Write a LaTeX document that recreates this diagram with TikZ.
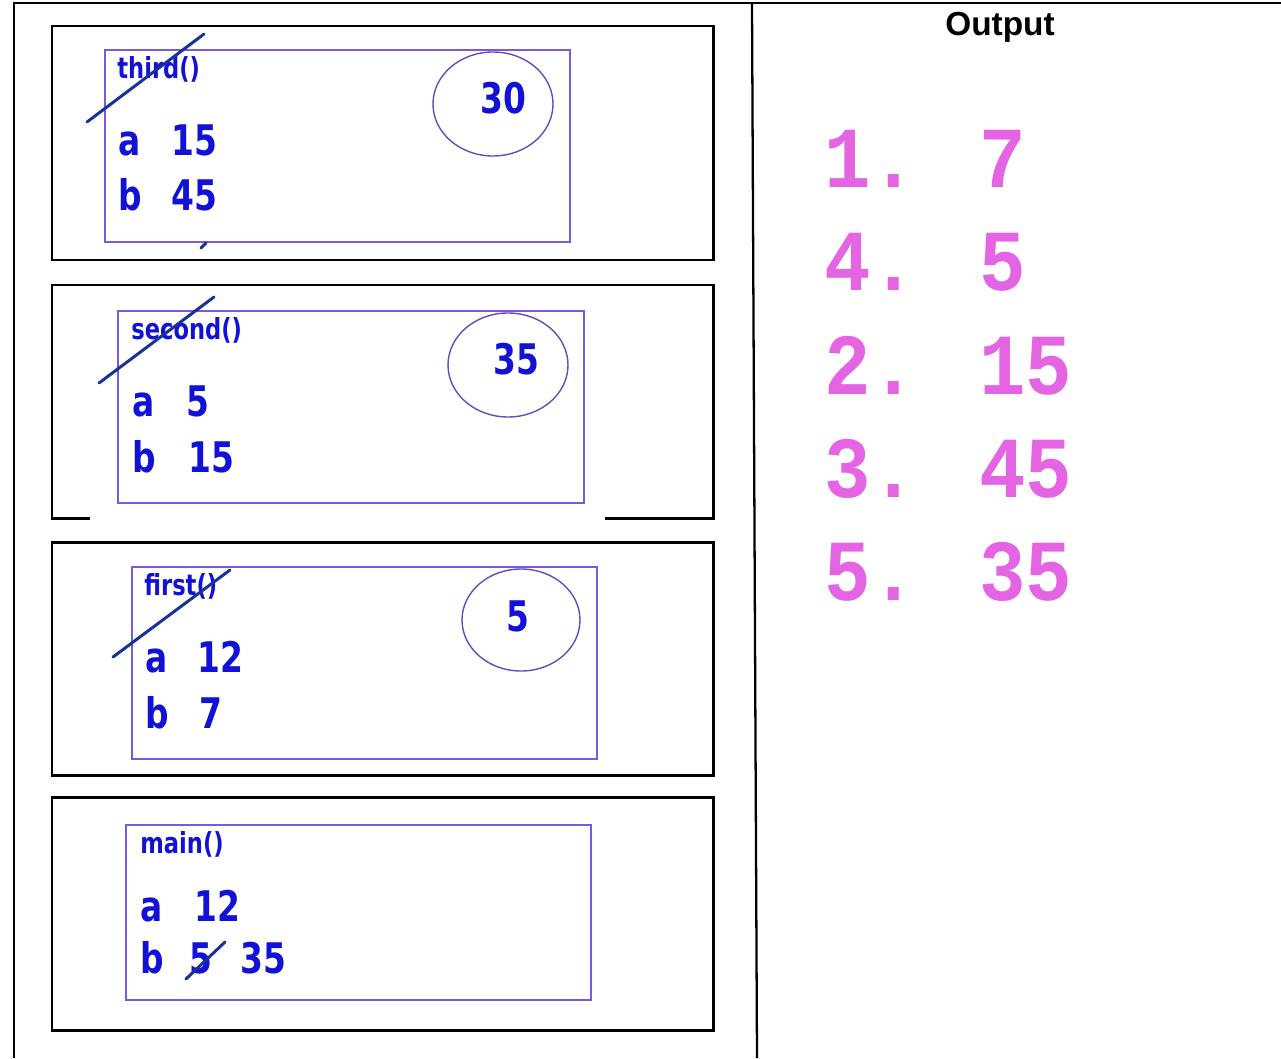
\documentclass[tikz,border=0pt]{standalone}
\usepackage{fontspec}
\usepackage{xcolor}
\setmainfont{DejaVu Sans}
\newfontfamily\stackfont[FakeStretch=0.78]{DejaVu Sans}
\newfontfamily\headfont{Liberation Sans}
\newfontfamily\printfont[FakeStretch=0.89]{Liberation Mono}
\definecolor{varblue}{RGB}{18,18,215}
\definecolor{scopepurple}{RGB}{120,90,225}
\definecolor{strikeblue}{RGB}{25,50,150}
\definecolor{printpink}{RGB}{228,100,228}
\tikzset{
  stackframe/.style={draw=black, line width=1.7pt},
  scopebox/.style={draw=scopepurple, line width=0.9pt},
  retval/.style={draw=scopepurple!85!black, line width=0.8pt},
  strike/.style={strikeblue, line width=1.7pt, line cap=round},
  fname/.style={anchor=base west, inner sep=0pt, text=varblue, font=\stackfont\bfseries\fontsize{16.5}{19}\selectfont},
  var/.style={anchor=base west, inner sep=0pt, text=varblue, font=\stackfont\bfseries\fontsize{24}{28}\selectfont},
  outrow/.style={anchor=base west, inner sep=0pt, text=printpink, font=\printfont\bfseries\fontsize{49.5}{55}\selectfont}
}

\begin{document}
\begin{tikzpicture}[x=0.02cm, y=-0.02cm]
  \useasboundingbox (0,0) rectangle (1281,1058);
  % outer table
  \draw[line width=1.1pt] (14,1058) -- (14,3) -- (1281,3);
  \draw[line width=1.3pt] (752,3) -- (757,1058);
  \node[anchor=base, inner sep=0pt, font=\headfont\bfseries\fontsize{19}{22}\selectfont] (outhead) at (1000,35) {Output};

  % third()
  \draw[stackframe] (52,26) rectangle (713,260);
  \draw[scopebox] (105,50) rectangle (570,242);
  \draw[retval] (493,104) ellipse [x radius=60, y radius=52];
  \node[fname] (third) at (117,78) {third()};
  \node[var] (thirdA) at (118,155) {a};
  \node[var] (thirdAv) at (171,155) {15};
  \node[var] (thirdB) at (118,210) {b};
  \node[var] (thirdBv) at (171,210) {45};
  \node[var] (thirdRet) at (480,113) {30};
  \draw[strike] (87,122) -- (204,34);
  \draw[strike] (201,248) -- (206,243);

  % second()
  \draw[stackframe] (52,285) rectangle (713,518);
  \fill[white] (90,515) rectangle (605,522);
  \draw[scopebox] (118,311) rectangle (584,503);
  \draw[retval] (508,365) ellipse [x radius=60, y radius=52];
  \node[fname] (second) at (131,339) {second()};
  \node[var] (secondA) at (132,416) {a};
  \node[var] (secondAv) at (186,416) {5};
  \node[var] (secondB) at (132,472) {b};
  \node[var] (secondBv) at (188,472) {15};
  \node[var] (secondRet) at (493,374) {35};
  \draw[strike] (99,383) -- (214,297);

  % first()
  \draw[stackframe] (52,542) rectangle (713,775);
  \draw[scopebox] (132,567) rectangle (597,759);
  \draw[retval] (521,620) ellipse [x radius=59, y radius=51];
  \node[fname] (first) at (144,595) {first()};
  \node[var] (firstA) at (145,672) {a};
  \node[var] (firstAv) at (197,672) {12};
  \node[var] (firstB) at (145,728) {b};
  \node[var] (firstBv) at (199,728) {7};
  \node[var] (firstRet) at (506,631) {5};
  \draw[strike] (113,657) -- (230,570);

  % main()
  \draw[stackframe] (52,797) rectangle (713,1030);
  \draw[scopebox] (126,825) rectangle (591,1000);
  \node[fname] (main) at (140,853) {main()};
  \node[var] (mainA) at (140,921) {a};
  \node[var] (mainAv) at (194,921) {12};
  \node[var] (mainB) at (140,973) {b};
  \node[var] (mainBold) at (189,973) {5};
  \node[var] (mainBv) at (240,973) {35};
  \draw[strike] (186,979) -- (225,942);

  % printed lines
  \node[outrow] (out1) at (824,187) {1. 7};
  \node[outrow] (out2) at (824,290) {4. 5};
  \node[outrow] (out3) at (824,394) {2. 15};
  \node[outrow] (out4) at (824,497) {3. 45};
  \node[outrow] (out5) at (824,600) {5. 35};
\end{tikzpicture}
\end{document}
